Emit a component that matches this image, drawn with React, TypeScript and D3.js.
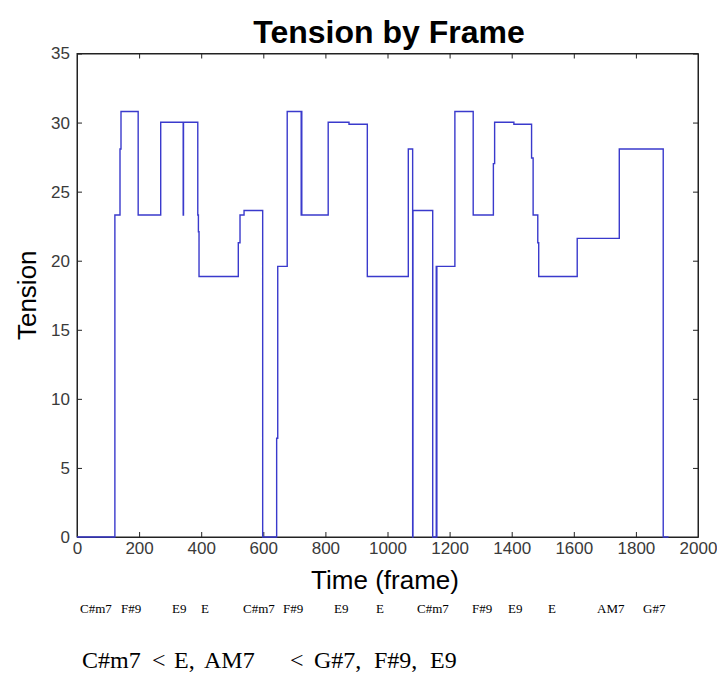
import React, { useEffect, useRef } from 'react';
import * as d3 from 'd3';

// step change points (frame where the value starts)
const frames = [0, 122, 138.5, 141.7, 197, 269.6, 342, 343, 389, 391, 393, 519.5, 525, 538, 598, 643, 646.5, 677, 722, 723, 724, 809, 876, 935, 1067, 1081, 1082, 1145.6, 1157, 1158, 1159, 1217, 1276, 1341, 1345, 1407, 1464, 1469, 1484, 1487, 1611, 1746.5, 1888, 1905];
const tension = [0, 23.31, 28.09, 30.8, 23.31, 30.02, 23.31, 30.02, 23.31, 22.1, 18.86, 21.3, 23.31, 23.64, 0, 7.15, 19.59, 30.8, 23.31, 30.8, 23.31, 30.02, 29.88, 18.86, 28.09, 0, 23.64, 0, 19.59, 0, 19.59, 30.8, 23.31, 27.03, 30.02, 29.88, 27.44, 23.31, 21.3, 18.86, 21.62, 28.09, 0, 0];

const xTicks = [0, 200, 400, 600, 800, 1000, 1200, 1400, 1600, 1800, 2000];
const yTicks = [0, 5, 10, 15, 20, 25, 30, 35];

// chord names printed under the axis, with the x pixel where each starts
const chords = ['C#m7', 'F#9', 'E9', 'E', 'C#m7', 'F#9', 'E9', 'E', 'C#m7', 'F#9', 'E9', 'E', 'AM7', 'G#7'];
const chordX = [80, 121, 172, 201, 243, 283, 334, 376, 417, 472, 508, 548, 597, 643];

// the ordering note at the bottom, word by word
const noteWords = ['C#m7', '<', 'E,', 'AM7', '<', 'G#7,', 'F#9,', 'E9'];
const noteX = [82, 152, 174, 204, 290, 314, 374, 430];

const W = 717;
const H = 675;
const margin = { left: 77, right: 19, top: 53.5, bottom: 138 };

export default function App() {
  const ref = useRef<SVGSVGElement>(null);

  useEffect(() => {
    const svg = d3.select(ref.current);
    svg.selectAll('*').remove();

    const x = d3.scaleLinear().domain([0, 2000]).range([margin.left, W - margin.right]);
    const y = d3.scaleLinear().domain([0, 35]).range([H - margin.bottom, margin.top]);

    const font = 'Arial, "Liberation Sans", sans-serif';
    const serif = '"Liberation Serif", "Times New Roman", serif';

    // frame
    svg.append('rect')
      .attr('x', x(0)).attr('y', y(35))
      .attr('width', x(2000) - x(0)).attr('height', y(0) - y(35))
      .attr('fill', 'white').attr('stroke', '#222').attr('stroke-width', 1);

    const xAxis = svg.append('g')
      .attr('transform', `translate(0,${y(0)})`)
      .call(d3.axisBottom(x).tickValues(xTicks).tickFormat(d3.format('d')).tickSizeInner(-5).tickSizeOuter(0).tickPadding(5));
    svg.append('g')
      .attr('transform', `translate(0,${y(35)})`)
      .call(d3.axisTop(x).tickValues(xTicks).tickSizeInner(-5).tickSizeOuter(0).tickFormat(() => ''));
    const yAxis = svg.append('g')
      .attr('transform', `translate(${x(0)},0)`)
      .call(d3.axisLeft(y).tickValues(yTicks).tickSizeInner(-5).tickSizeOuter(0).tickPadding(7));
    svg.append('g')
      .attr('transform', `translate(${x(2000)},0)`)
      .call(d3.axisRight(y).tickValues(yTicks).tickSizeInner(-5).tickSizeOuter(0).tickFormat(() => ''));

    svg.selectAll('.domain').attr('stroke', '#222');
    svg.selectAll('.tick line').attr('stroke', '#222');
    [xAxis, yAxis].forEach(a => a.selectAll('text')
      .attr('font-family', font).attr('font-size', 17).attr('fill', '#3a3a3a'));

    // tension line
    const pts: [number, number][] = frames.map((f, i) => [f, tension[i]]);
    const line = d3.line<[number, number]>()
      .x(d => x(d[0])).y(d => y(d[1]))
      .curve(d3.curveStepAfter);
    svg.append('path')
      .datum(pts)
      .attr('d', line)
      .attr('fill', 'none')
      .attr('stroke', '#3a3acc')
      .attr('stroke-width', 1.4);

    // titles
    svg.append('text')
      .attr('x', 389).attr('y', 43)
      .attr('text-anchor', 'middle')
      .attr('font-family', font).attr('font-size', 32).attr('font-weight', 'bold')
      .text('Tension by Frame');
    svg.append('text')
      .attr('x', 385).attr('y', 589)
      .attr('text-anchor', 'middle')
      .attr('font-family', font).attr('font-size', 26)
      .text('Time (frame)');
    svg.append('text')
      .attr('transform', `translate(36,${(y(0) + y(35)) / 2}) rotate(-90)`)
      .attr('text-anchor', 'middle')
      .attr('font-family', font).attr('font-size', 26)
      .text('Tension');

    // chord row
    svg.append('g')
      .selectAll('text')
      .data(chords)
      .join('text')
        .attr('x', (d, i) => chordX[i])
        .attr('y', 613)
        .attr('font-family', serif)
        .attr('font-size', 13)
        .text(d => d);

    svg.append('g')
      .selectAll('text')
      .data(noteWords)
      .join('text')
        .attr('x', (d, i) => noteX[i])
        .attr('y', 668)
        .attr('font-family', serif)
        .attr('font-size', 24)
        .text(d => d);
  }, []);

  return (
    <div style={{ position: 'absolute', left: 0, top: 0 }}>
      <svg ref={ref} width={W} height={H} style={{ display: 'block', background: 'white' }}></svg>
    </div>
  );
}
